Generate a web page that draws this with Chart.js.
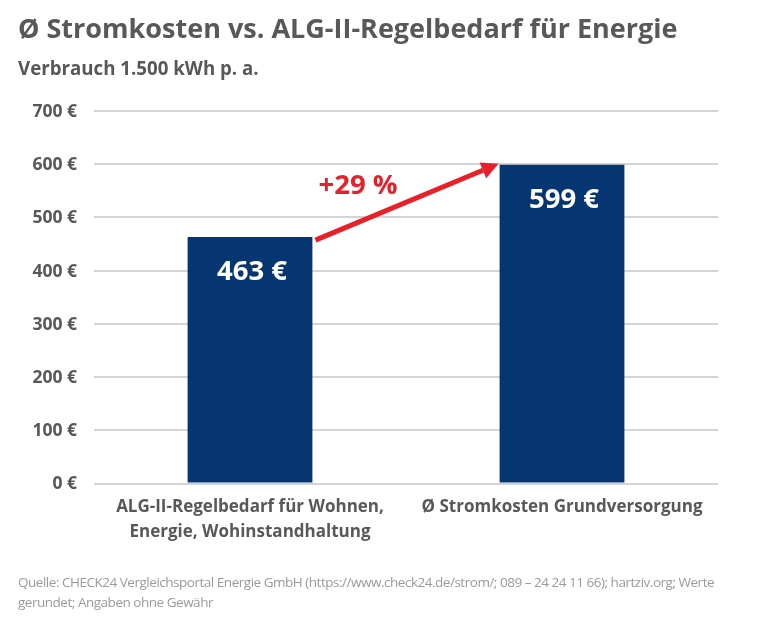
<!DOCTYPE html>
<html lang="de">
<head>
<meta charset="utf-8">
<title>Stromkosten vs. ALG-II-Regelbedarf</title>
<script src="https://cdn.jsdelivr.net/npm/chart.js@4"></script>
<style>
  html, body { margin: 0; padding: 0; background: #fff; overflow: hidden; }
  #wrap { position: relative; width: 767px; height: 621px; font-family: "Open Sans", sans-serif; }
  #wrap canvas { position: absolute; left: 0; top: 0; }
  .txt { position: absolute; left: 18px; white-space: nowrap; }
  #title { top: 11px; font-size: 27px; line-height: 34px; font-weight: 700; color: #58585a; }
  #subtitle { top: 55px; font-size: 18.7px; line-height: 26px; font-weight: 700; color: #58585a; }
  #source { top: 572px; font-size: 13.5px; line-height: 20px; letter-spacing: -0.48px; color: #9a9a9c; }
</style>
</head>
<body>
<div id="wrap">
  <canvas id="myChart" width="767" height="621"></canvas>
  <div class="txt" id="title">Ø Stromkosten vs. ALG-II-Regelbedarf für Energie</div>
  <div class="txt" id="subtitle">Verbrauch 1.500 kWh p. a.</div>
  <div class="txt" id="source">Quelle: CHECK24 Vergleichsportal Energie GmbH (https://www.check24.de/strom/; 089 – 24 24 11 66); hartziv.org; Werte<br>gerundet; Angaben ohne Gewähr</div>
</div>
<script>
// Daten
const categories = [["ALG-II-Regelbedarf für Wohnen,", "Energie, Wohinstandhaltung"], "Ø Stromkosten Grundversorgung"];
const values = [463, 599];
const tickValues = [0, 100, 200, 300, 400, 500, 600, 700];
const increaseLabel = "+29 %";

const grey = "#58585a";
const red = "#e8202a";

// Werte in den Balken und der rote Pfeil
const annotations = {
    id: "annotations",
    afterDatasetsDraw(chart) {
        const ctx = chart.ctx;
        const x = chart.scales.x;
        const y = chart.scales.y;
        const bars = chart.getDatasetMeta(0).data;

        ctx.save();
        ctx.font = "700 27.5px 'Open Sans'";
        ctx.fillStyle = "#fff";
        ctx.textAlign = "center";
        ctx.textBaseline = "middle";
        values.forEach((v, i) => {
            ctx.fillText(v + " €", bars[i].x + 2, y.getPixelForValue(v) + 35);
        });

        // Pfeil von Balken 1 zu Balken 2
        const x1 = bars[0].x + bars[0].width / 2 + 3;
        const y1 = y.getPixelForValue(values[0]) + 3;
        const x2 = bars[1].x - bars[1].width / 2 - 1;
        const y2 = y.getPixelForValue(values[1]) - 1;
        const angle = Math.atan2(y2 - y1, x2 - x1);
        const headLen = 17;
        const headWidth = 8.5;
        const bx = x2 - headLen * Math.cos(angle);
        const by = y2 - headLen * Math.sin(angle);

        ctx.strokeStyle = red;
        ctx.fillStyle = red;
        ctx.lineWidth = 5;
        ctx.beginPath();
        ctx.moveTo(x1, y1);
        ctx.lineTo(bx, by);
        ctx.stroke();
        ctx.beginPath();
        ctx.moveTo(x2, y2);
        ctx.lineTo(bx - headWidth * Math.sin(angle), by + headWidth * Math.cos(angle));
        ctx.lineTo(bx + headWidth * Math.sin(angle), by - headWidth * Math.cos(angle));
        ctx.closePath();
        ctx.fill();

        ctx.font = "700 27.5px 'Open Sans'";
        ctx.fillText(increaseLabel, (x.getPixelForValue(0) + x.getPixelForValue(1)) / 2 - 48, y.getPixelForValue(558));
        ctx.restore();
    }
};

new Chart(document.getElementById("myChart"), {
    type: "bar",
    data: {
        labels: categories,
        datasets: [{
            data: values,
            backgroundColor: "#063672",
            barPercentage: 0.4,
            categoryPercentage: 1
        }]
    },
    options: {
        responsive: false,
        animation: false,
        layout: { padding: { top: 111, right: 49, bottom: 0, left: 0 } },
        plugins: {
            legend: { display: false },
            tooltip: { enabled: false }
        },
        scales: {
            x: {
                grid: { display: false },
                border: { display: false },
                afterFit(scale) { scale.height = 137.5; },
                ticks: {
                    color: grey,
                    font: { family: "'Open Sans'", size: 17, weight: "700", lineHeight: 1.42 },
                    padding: 4,
                    maxRotation: 0
                }
            },
            y: {
                min: 0,
                max: 700,
                afterFit(scale) { scale.width = 94; },
                afterBuildTicks(scale) { scale.ticks = tickValues.map(v => ({ value: v })); },
                grid: { color: "#d4d4d6", lineWidth: 2, drawTicks: false },
                border: { display: false },
                ticks: {
                    color: grey,
                    font: { family: "'Open Sans'", size: 17.5, weight: "700" },
                    padding: 17,
                    labelOffset: 1,
                    callback: v => v + " €"
                }
            }
        }
    },
    plugins: [annotations]
});
</script>
</body>
</html>
